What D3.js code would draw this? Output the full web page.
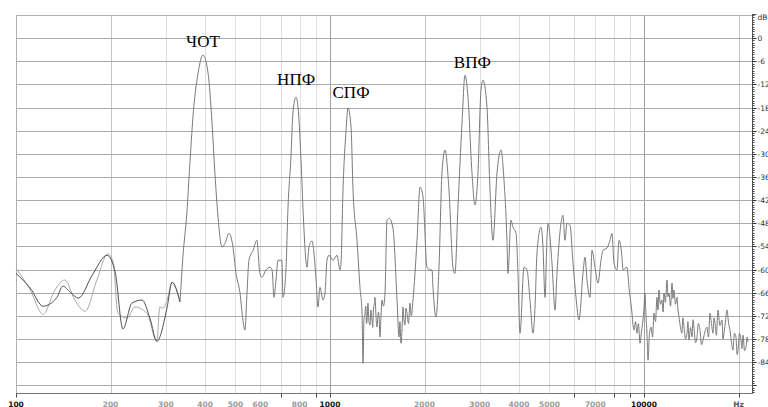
<!DOCTYPE html>
<html><head><meta charset="utf-8">
<script src="https://cdn.jsdelivr.net/npm/d3@7"></script>
<style>html,body{margin:0;padding:0;background:#fff;overflow:hidden}svg{display:block}</style>
</head><body><svg id="c" width="768" height="407"></svg>
<script>
// ---------- data ----------
const lowFreqDark = [100,111,122,135,141,149,158,175,195,207,219,234,252,267,281,303,314,333];
const lowDbDark   = [-61.0,-64.8,-69.5,-67.2,-64.3,-65.9,-67.4,-61.4,-56.3,-60.7,-75.4,-68.7,-67.9,-72.6,-78.6,-69.7,-63.3,-68.4];
const lowFreqLight = [100,111,122,133,143,154,166,181,196,204,211,226,239,261,281,287,294,303,314,333];
const lowDbLight   = [-59.6,-65.3,-71.6,-65.3,-62.7,-67.9,-70.8,-62.7,-55.9,-58.1,-71.3,-72.6,-69.7,-71.3,-78.6,-69.7,-70.0,-67.9,-63.3,-68.4];
const mainFreq = [333,340,350,358,366,380,394,409,421,430,440,453,463,477,491,502,517,528,536,544,552,569,585,598,607,625,644,654,663,673,683,703,708,724,735,751,762,779,791,808,820,845,857,876,889,902,916,929,950,964,978,993,1022,1053,1076,1084,1100,1125,1141,1167,1184,1219,1246,1265,1274,1283,1293,1300,1307,1314,1321,1331,1341,1350,1361,1368,1376,1384,1391,1400,1411,1427,1435,1443,1453,1464,1480,1497,1519,1542,1587,1635,1659,1670,1683,1695,1708,1720,1733,1746,1759,1778,1798,1815,1838,1893,1935,1978,2037,2082,2113,2128,2176,2224,2273,2324,2393,2464,2500,2556,2633,2691,2751,2833,2896,2960,3026,3071,3162,3233,3304,3403,3504,3582,3661,3688,3770,3826,3912,3969,4028,4148,4240,4335,4431,4497,4563,4699,4769,4839,4911,4947,5093,5207,5284,5441,5521,5603,5686,5813,5942,6074,6209,6393,6488,6584,6730,6830,6982,7137,7296,7404,7624,7793,7909,8026,8204,8325,8510,8572,8827,8958,9157,9230,9293,9400,9499,9600,9712,9820,9926,10000,10070,10150,10220,10300,10400,10530,10650,10760,10880,11000,11080,11160,11280,11410,11500,11580,11700,11840,11920,12010,12150,12280,12370,12460,12600,12740,12830,12930,13070,13210,13300,13410,13560,13710,13800,13910,14070,14220,14330,14430,14600,14750,14900,15080,15250,15410,15650,15870,16050,16230,16400,16590,16700,16840,17000,17210,17450,17720,17850,17980,18200,18380,18600,18790,19000,19200,19400,19630,19800,19930,20150,20370,20500,20670,20900,21130,21300,21440];
const mainDb = [-68.4,-56.8,-45.4,-32.4,-20.5,-9.1,-4.4,-9.1,-22.0,-35.0,-46.4,-54.2,-53.2,-50.6,-54.2,-61.0,-66.1,-73.1,-75.7,-66.1,-57.6,-55.0,-52.4,-61.0,-62.0,-60.1,-59.4,-60.1,-67.2,-62.7,-57.6,-57.6,-67.2,-60.1,-43.8,-30.9,-19.4,-15.3,-17.9,-30.9,-43.8,-59.4,-54.2,-52.6,-55.7,-62.0,-69.7,-64.6,-67.9,-66.1,-57.6,-56.3,-57.6,-56.3,-60.1,-58.3,-39.4,-23.9,-18.1,-23.1,-39.4,-52.4,-64.6,-71.3,-84.3,-73.0,-71.3,-69.5,-74.0,-72.5,-68.7,-73.5,-74.4,-70.5,-73.1,-75.0,-70.0,-69.0,-67.2,-71.5,-74.9,-71.0,-73.0,-77.5,-72.5,-67.9,-69.5,-66.1,-47.2,-46.7,-49.3,-67.9,-77.5,-73.5,-79.1,-76.0,-69.7,-73.0,-74.4,-70.0,-71.3,-74.0,-68.7,-72.0,-67.9,-52.4,-38.6,-41.2,-59.4,-60.1,-60.1,-64.6,-72.3,-59.4,-35.0,-29.0,-39.4,-59.4,-61.0,-43.8,-22.0,-9.6,-15.3,-35.0,-43.3,-35.0,-13.5,-10.9,-17.9,-39.4,-52.4,-35.0,-29.0,-36.8,-52.4,-61.0,-47.2,-49.0,-50.6,-61.0,-76.5,-59.4,-60.1,-67.9,-76.5,-69.7,-55.7,-49.0,-54.2,-67.2,-51.6,-48.0,-58.3,-70.5,-61.0,-48.0,-45.9,-52.4,-48.0,-48.5,-58.3,-67.2,-73.1,-61.0,-56.8,-62.7,-67.2,-55.0,-59.4,-63.5,-57.6,-55.0,-54.4,-52.4,-50.6,-58.3,-60.1,-52.4,-56.8,-60.1,-59.4,-64.6,-71.3,-74.5,-75.7,-73.5,-76.5,-74.0,-79.1,-76.0,-73.1,-70.0,-66.1,-72.0,-76.5,-83.5,-77.0,-74.9,-77.5,-71.3,-73.5,-67.2,-70.5,-65.3,-69.0,-67.9,-71.0,-66.1,-68.5,-62.7,-67.0,-66.1,-69.5,-63.5,-67.5,-65.3,-69.0,-67.2,-70.5,-72.3,-75.0,-76.5,-72.5,-74.9,-78.0,-76.5,-73.5,-78.3,-75.0,-77.5,-73.0,-75.2,-79.0,-77.5,-74.0,-75.7,-79.5,-78.3,-76.0,-74.9,-77.5,-71.3,-74.0,-76.5,-72.5,-73.9,-77.0,-70.5,-74.5,-73.1,-78.0,-76.5,-73.0,-70.5,-74.0,-75.7,-79.0,-80.9,-76.5,-77.5,-82.0,-80.9,-76.5,-78.3,-80.5,-77.0,-81.0,-80.1,-77.5,-78.8];

const gridFreqs = [200,300,400,500,600,700,800,900,1000,2000,3000,4000,5000,6000,7000,8000,9000,10000,20000];
const strongFreqs = [1000,10000];
const midFreqs = [200,2000,20000];
const xLabelFreqs = [100,200,300,400,500,600,800,1000,2000,3000,4000,5000,7000,10000,20000];
const xLabelTexts = ["100","200","300","400","500","600","800","1000","2000","3000","4000","5000","7000","10000","Hz"];
const xBlackLabels = ["100","1000","10000"];
const xTickFreqs = [100,700,900,1000,6000,8000,9000,10000,20000];
const dbTicks = [0,-6,-12,-18,-24,-30,-36,-42,-48,-54,-60,-66,-72,-78,-84,-90];
const dbLabels = ["0","-6","-12","-18","-24","-30","-36","-42","-48","-54","-60","-66","-72","-78","-84",""];
const peakNames = ["ЧОТ","НПФ","СПФ","ВПФ"];
const peakFreqs = [394,780,1167,2840];
const peakDbs = [-2.3,-12.2,-15.6,-7.8];

// ---------- drawing ----------
const svg = d3.select("#c");
const x = d3.scaleLog().domain([100,22080]).range([16,752]);
const y = d3.scaleLinear().domain([6,-92]).range([15,393]);

const g = svg.append("g");
g.selectAll(".vg").data(gridFreqs).join("line")
  .attr("x1",d=>Math.round(x(d))+0.5).attr("x2",d=>Math.round(x(d))+0.5)
  .attr("y1",y(6)).attr("y2",y(-92))
  .attr("stroke",d=>strongFreqs.includes(d)?"#a0a0a0":(midFreqs.includes(d)?"#c4c4c4":"#dedede"))
  .attr("stroke-width",1);
g.selectAll(".hg").data(dbTicks).join("line")
  .attr("x1",x(100)).attr("x2",x(22080))
  .attr("y1",d=>Math.round(y(d))+0.5).attr("y2",d=>Math.round(y(d))+0.5)
  .attr("stroke","#aaaaaa").attr("stroke-width",1);
g.append("line").attr("x1",x(100)).attr("x2",x(22080)).attr("y1",Math.round(y(6))+0.5).attr("y2",Math.round(y(6))+0.5).attr("stroke","#b0b0b0");
g.append("line").attr("x1",Math.round(x(100))+0.5).attr("x2",Math.round(x(100))+0.5).attr("y1",y(6)).attr("y2",y(-92)).attr("stroke","#b0b0b0");

// curves
const line = d3.line().x(d=>x(d[0])).y(d=>y(d[1])).curve(d3.curveMonotoneX);
const zip = (a,b)=>a.map((v,i)=>[v,b[i]]);
g.append("path").datum(zip(lowFreqLight,lowDbLight)).attr("d",line)
  .attr("fill","none").attr("stroke","#a8a8a8").attr("stroke-width",1);
g.append("path").datum(zip(lowFreqDark,lowDbDark)).attr("d",line)
  .attr("fill","none").attr("stroke","#505050").attr("stroke-width",1);
g.append("path").datum(zip(mainFreq,mainDb)).attr("d",line)
  .attr("fill","none").attr("stroke","#7a7a7a").attr("stroke-width",1);

// bottom axis
g.append("line").attr("x1",x(100)).attr("x2",x(22080)+1).attr("y1",393.5).attr("y2",393.5).attr("stroke","#777");
g.selectAll(".xt").data(xTickFreqs).join("line")
  .attr("x1",d=>Math.round(x(d))+0.5).attr("x2",d=>Math.round(x(d))+0.5)
  .attr("y1",393.5).attr("y2",397.5).attr("stroke","#444");
g.selectAll(".xl").data(xLabelFreqs).join("text")
  .attr("x",d=>x(d)).attr("y",406.5).attr("text-anchor","middle")
  .attr("font-family","DejaVu Sans").attr("font-weight","bold").attr("font-size",7.5)
  .attr("fill",(d,i)=>xBlackLabels.includes(xLabelTexts[i])?"#111":(xLabelTexts[i]==="Hz"?"#555":"#9a9a9a"))
  .text((d,i)=>xLabelTexts[i]);

// right axis
const ax = 752.5;
g.append("line").attr("x1",ax).attr("x2",ax).attr("y1",y(6)-1).attr("y2",y(-92)).attr("stroke","#555");
g.append("line").attr("x1",ax).attr("x2",ax+4).attr("y1",Math.round(y(6))-0.5).attr("y2",Math.round(y(6))-0.5).attr("stroke","#555");
const minor = d3.range(6,-92,-0.6);
g.selectAll(".mt").data(minor).join("line")
  .attr("x1",ax).attr("x2",ax+2).attr("y1",d=>Math.round(y(d))+0.5).attr("y2",d=>Math.round(y(d))+0.5)
  .attr("stroke","#444");
g.selectAll(".Mt").data(dbTicks).join("line")
  .attr("x1",ax).attr("x2",ax+4).attr("y1",d=>Math.round(y(d))+0.5).attr("y2",d=>Math.round(y(d))+0.5)
  .attr("stroke","#333");
g.selectAll(".yl").data(dbTicks).join("text")
  .attr("x",757.5).attr("y",d=>y(d)+3).attr("font-family","DejaVu Sans").attr("font-size",7.5)
  .attr("fill","#333").text((d,i)=>dbLabels[i]);
g.append("text").attr("x",757.5).attr("y",y(6)+5).attr("font-family","DejaVu Sans").attr("font-size",7.5)
  .attr("fill","#333").text("dB");

// peak labels
g.selectAll(".pk").data(peakNames).join("text")
  .attr("x",(d,i)=>x(peakFreqs[i])).attr("y",(d,i)=>y(peakDbs[i]))
  .attr("text-anchor","middle").attr("font-family","Liberation Serif, Times New Roman, serif")
  .attr("font-size",17).attr("fill","#000").text(d=>d);
</script></body></html>
